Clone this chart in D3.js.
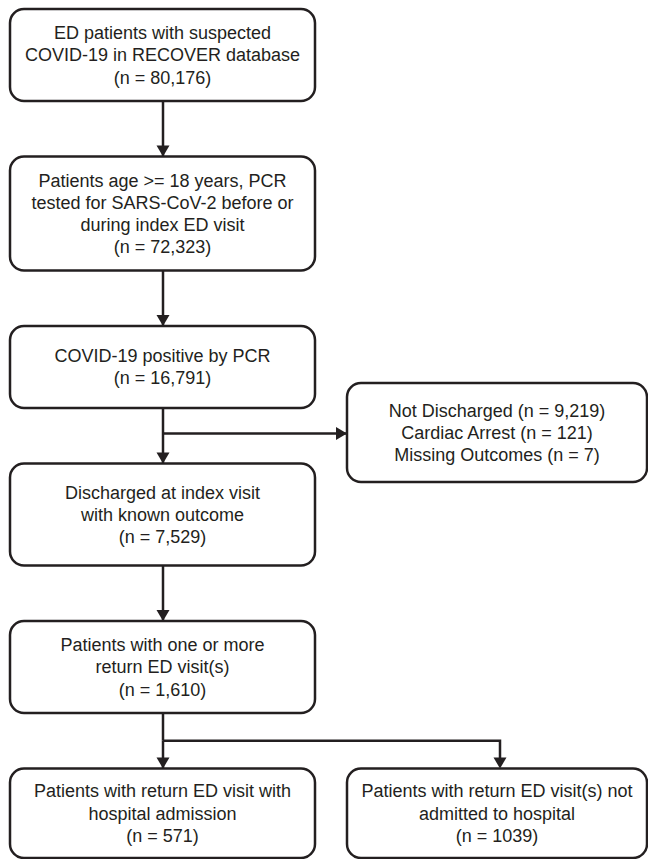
<!DOCTYPE html>
<html>
<head>
<meta charset="utf-8">
<script src="https://cdn.jsdelivr.net/npm/d3@7"></script>
<style>
  html, body { margin: 0; padding: 0; background: #fff; }
  svg { display: block; }
</style>
</head>
<body>
<svg id="chart" width="648" height="859"></svg>
<script>
// ---- Data (box texts) ----
const mainLabels = [
  ["ED patients with suspected", "COVID-19 in RECOVER database", "(n = 80,176)"],
  ["Patients age >= 18 years, PCR", "tested for SARS-CoV-2 before or", "during index ED visit", "(n = 72,323)"],
  ["COVID-19 positive by PCR", "(n = 16,791)"],
  ["Discharged at index visit", "with known outcome", "(n = 7,529)"],
  ["Patients with one or more", "return ED visit(s)", "(n = 1,610)"]
];
const excludedLabels = ["Not Discharged (n = 9,219)", "Cardiac Arrest (n = 121)", "Missing Outcomes (n = 7)"];
const outcomeLabels = [
  ["Patients with return ED visit with", "hospital admission", "(n = 571)"],
  ["Patients with return ED visit(s) not", "admitted to hospital", "(n = 1039)"]
];

// ---- Layout ----
const W = 648, H = 859;
const ink = "#231f20";
const fontSize = 18, lineH = 22.2, radius = 14, sw = 2.5;
const mainHeights = [92, 114, 82, 102, 92];
const gap = 55.5;
const x = d3.scaleLinear().domain([0, 1]).range([10, 647]); // horizontal layout scale
const colLeft = {x0: x(0), x1: 315};
const colRight = {x0: 347, x1: x(1)};

const svg = d3.select("#chart");

// compute main boxes
let yCur = 9;
const mainBoxes = mainLabels.map((lines, i) => {
  const b = {x0: colLeft.x0, x1: colLeft.x1, y0: yCur, y1: yCur + mainHeights[i], lines};
  yCur += mainHeights[i] + gap;
  return b;
});
const outTop = yCur;
const outBoxes = outcomeLabels.map((lines, i) => {
  const c = i === 0 ? colLeft : colRight;
  return {x0: c.x0, x1: c.x1, y0: outTop, y1: outTop + 89.5, lines};
});
const exBox = {x0: colRight.x0, x1: colRight.x1, y0: 383, y1: 482, lines: excludedLabels};

const allBoxes = mainBoxes.concat([exBox], outBoxes);

// connectors
const cx = (b) => (b.x0 + b.x1) / 2;
const cy = (b) => (b.y0 + b.y1) / 2;
const lines = [];
const arrows = []; // {x, y, dir}
function vArrow(xp, y0, y1) { lines.push([[xp, y0], [xp, y1]]); arrows.push({x: xp, y: y1, dir: "down"}); }

const mx = 163;
vArrow(mx, mainBoxes[0].y1, mainBoxes[1].y0);
vArrow(mx, mainBoxes[1].y1, mainBoxes[2].y0);
vArrow(mx, mainBoxes[2].y1, mainBoxes[3].y0);
// branch to exclusion box
const by = cy(exBox) + 1;
lines.push([[mx, by], [exBox.x0, by]]);
arrows.push({x: exBox.x0, y: by, dir: "right"});
vArrow(mx, mainBoxes[3].y1, mainBoxes[4].y0);
// bottom split
const sy = (mainBoxes[4].y1 + outTop) / 2;
const rx = 500;
lines.push([[mx, mainBoxes[4].y1], [mx, sy]]);
vArrow(mx, sy, outTop);
lines.push([[mx, sy], [rx, sy], [rx, outTop - 10]]);
arrows.push({x: rx, y: outTop, dir: "down"});

const lineGen = d3.line();
svg.append("g").selectAll("path").data(lines).join("path")
  .attr("d", d => lineGen(d.map((p, i) => {
     // stop vertical lines short of arrow tips slightly
     return p;
  })))
  .attr("fill", "none").attr("stroke", ink).attr("stroke-width", sw)
  .attr("stroke-linejoin", "miter");

const aw = 6.5, al = 11;
svg.append("g").selectAll("path").data(arrows).join("path")
  .attr("d", d => d.dir === "down"
    ? `M${d.x - aw},${d.y - al}L${d.x + aw},${d.y - al}L${d.x},${d.y}Z`
    : `M${d.x - al},${d.y - aw}L${d.x - al},${d.y + aw}L${d.x},${d.y}Z`)
  .attr("fill", ink);

// boxes
const g = svg.append("g").selectAll("g").data(allBoxes).join("g");
g.append("rect")
  .attr("x", d => d.x0).attr("y", d => d.y0)
  .attr("width", d => d.x1 - d.x0).attr("height", d => d.y1 - d.y0)
  .attr("rx", radius).attr("ry", radius)
  .attr("fill", "#fff").attr("stroke", ink).attr("stroke-width", sw);
g.append("text")
  .attr("text-anchor", "middle")
  .attr("font-family", "'Liberation Sans', Arial, Helvetica, sans-serif")
  .attr("font-size", fontSize)
  .attr("fill", ink)
  .selectAll("tspan").data(d => d.lines.map((t, i) => ({t, i, n: d.lines.length, d})))
  .join("tspan")
  .attr("x", o => cx(o.d))
  .attr("y", o => cy(o.d) + (o.i - (o.n - 1) / 2) * lineH)
  .attr("dy", "0.35em")
  .text(o => o.t);
</script>
</body>
</html>
